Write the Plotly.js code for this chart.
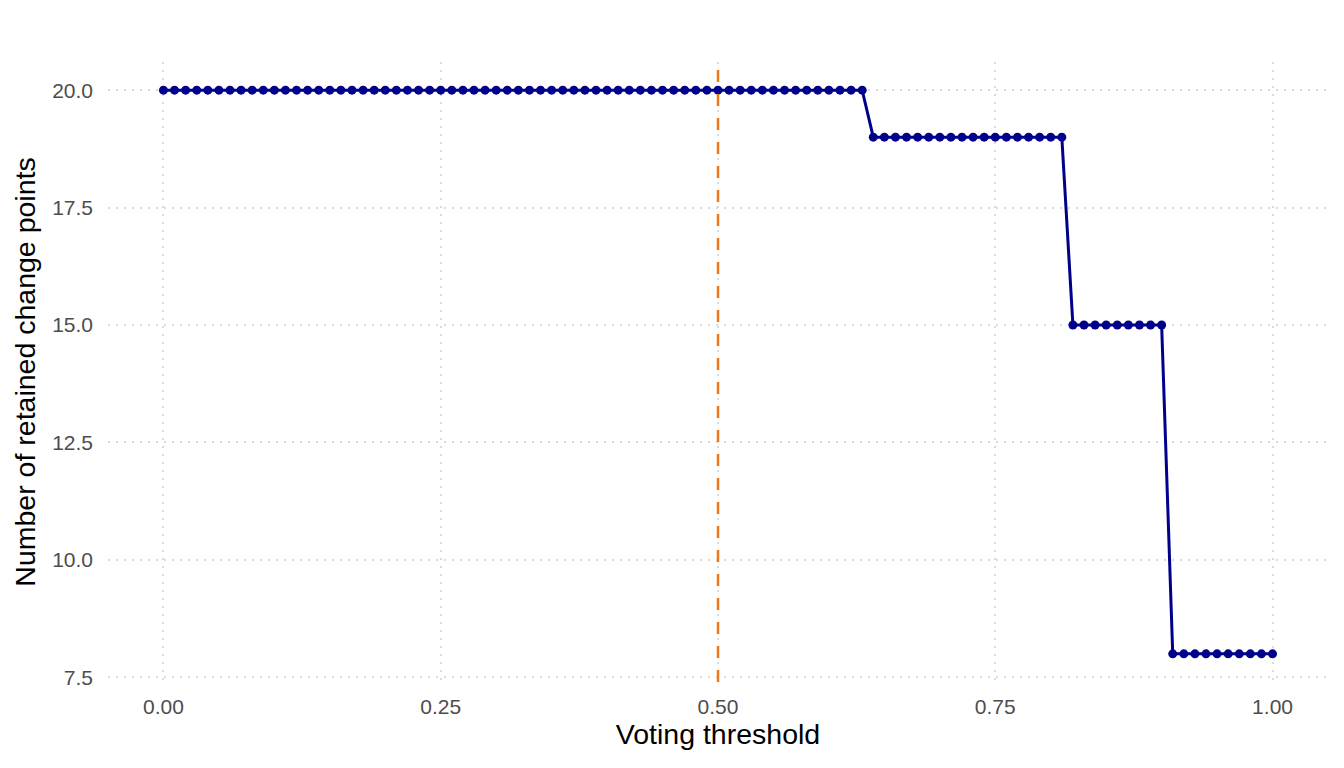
<!DOCTYPE html>
<html>
<head>
<meta charset="utf-8">
<script src="https://cdn.plot.ly/plotly-3.0.1.min.js"></script>
<style>html,body{margin:0;padding:0;background:#fff;}#chart{width:1344px;height:768px;}</style>
</head>
<body>
<div id="chart"></div>
<script>
// Voting thresholds 0.00 .. 1.00 (step 0.01)
const thresholds = [
0.00,0.01,0.02,0.03,0.04,0.05,0.06,0.07,0.08,0.09,
0.10,0.11,0.12,0.13,0.14,0.15,0.16,0.17,0.18,0.19,
0.20,0.21,0.22,0.23,0.24,0.25,0.26,0.27,0.28,0.29,
0.30,0.31,0.32,0.33,0.34,0.35,0.36,0.37,0.38,0.39,
0.40,0.41,0.42,0.43,0.44,0.45,0.46,0.47,0.48,0.49,
0.50,0.51,0.52,0.53,0.54,0.55,0.56,0.57,0.58,0.59,
0.60,0.61,0.62,0.63,0.64,0.65,0.66,0.67,0.68,0.69,
0.70,0.71,0.72,0.73,0.74,0.75,0.76,0.77,0.78,0.79,
0.80,0.81,0.82,0.83,0.84,0.85,0.86,0.87,0.88,0.89,
0.90,0.91,0.92,0.93,0.94,0.95,0.96,0.97,0.98,0.99,1.00];
// Number of retained change points
const retained = [
20,20,20,20,20,20,20,20,20,20,
20,20,20,20,20,20,20,20,20,20,
20,20,20,20,20,20,20,20,20,20,
20,20,20,20,20,20,20,20,20,20,
20,20,20,20,20,20,20,20,20,20,
20,20,20,20,20,20,20,20,20,20,
20,20,20,20,19,19,19,19,19,19,
19,19,19,19,19,19,19,19,19,19,
19,19,15,15,15,15,15,15,15,15,
15,8,8,8,8,8,8,8,8,8,8];
const chosenThreshold = 0.5;
const xTicks = [0, 0.25, 0.5, 0.75, 1];
const xTickLabels = ["0.00","0.25","0.50","0.75","1.00"];
const yTicks = [7.5, 10, 12.5, 15, 17.5, 20];
const yTickLabels = ["7.5","10.0","12.5","15.0","17.5","20.0"];

const trace = {
  x: thresholds, y: retained, type: 'scatter', mode: 'lines+markers',
  line: {color: '#00008B', width: 3},
  marker: {color: '#00008B', size: 9},
  hoverinfo: 'skip'
};

const gridStyle = {showgrid: true, gridcolor: '#DADADA', griddash: '2px,6px', gridwidth: 2};

const layout = {
  width: 1344, height: 768,
  margin: {l: 108, r: 16, t: 62, b: 86},
  paper_bgcolor: '#fff', plot_bgcolor: '#fff',
  showlegend: false,
  font: {family: 'Liberation Sans, Arial, sans-serif'},
  xaxis: Object.assign({
    range: [-0.05, 1.05], tickvals: xTicks, ticktext: xTickLabels,
    zeroline: false, showline: false, ticks: '', ticklabelstandoff: 10,
    tickfont: {size: 21, color: '#4D4D4D'},
    title: {text: 'Voting threshold', font: {size: 28.5, color: '#000'}, standoff: 6}
  }, gridStyle),
  yaxis: Object.assign({
    range: [7.4, 20.6], tickvals: yTicks, ticktext: yTickLabels,
    zeroline: false, showline: false, ticks: '', ticklabelstandoff: 14,
    tickfont: {size: 21, color: '#4D4D4D'},
    title: {text: 'Number of retained change points', font: {size: 28.5, color: '#000'}, standoff: 8}
  }, gridStyle),
  shapes: [{
    type: 'line', xref: 'x', yref: 'paper', x0: chosenThreshold, x1: chosenThreshold, y0: 0, y1: 1,
    line: {color: '#F07818', width: 2.5, dash: '12px,12px'}
  }]
};

Plotly.newPlot('chart', [trace], layout, {displayModeBar: false, staticPlot: true});
</script>
</body>
</html>
